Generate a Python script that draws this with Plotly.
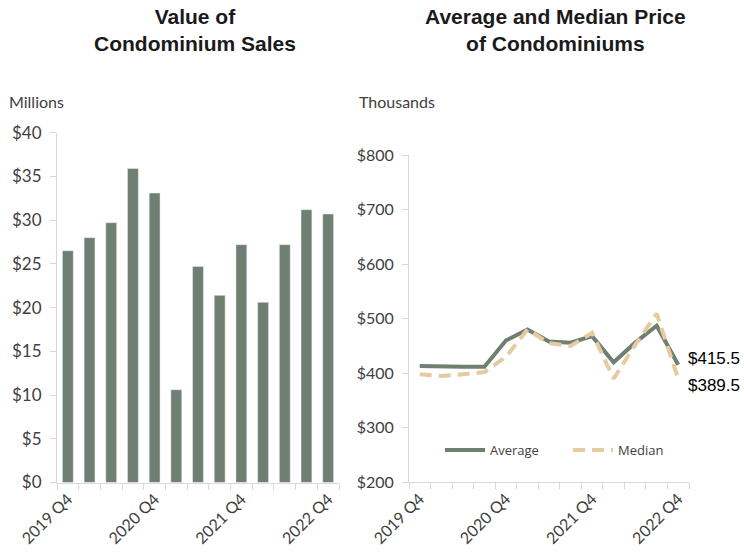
import plotly.graph_objects as go

quarters = ["2019 Q4", "2020 Q1", "2020 Q2", "2020 Q3", "2020 Q4", "2021 Q1", "2021 Q2",
            "2021 Q3", "2021 Q4", "2022 Q1", "2022 Q2", "2022 Q3", "2022 Q4"]
sales_value = [26.5, 28.0, 29.7, 35.9, 33.1, 10.6, 24.7, 21.4, 27.2, 20.6, 27.2, 31.2, 30.7]
avg_price = [413, 412, 412, 412, 460, 480, 458, 456, 468, 420, 456, 487, 415.5]
median_price = [398, 395, 398, 402, 430, 480, 455, 450, 474, 390, 452, 509, 389.5]
label_idx = [0, 4, 8, 12]

W, H = 744, 552
xs = list(range(len(quarters)))
BAR = "#6f7f72"
MED = "#e6caa0"
TICKC = "#404040"
AXC = "#d9d9d9"

fig = go.Figure()
fig.add_trace(go.Bar(x=xs, y=sales_value, marker_color=BAR, width=0.5,
                     showlegend=False, xaxis="x", yaxis="y",
                     hovertext=quarters))
fig.add_trace(go.Scatter(x=xs, y=avg_price, mode="lines", name="Average",
                         line=dict(color=BAR, width=4), xaxis="x2", yaxis="y2",
                         hovertext=quarters))
fig.add_trace(go.Scatter(x=xs, y=median_price, mode="lines", name="Median",
                         line=dict(color=MED, width=4, dash="12px,7px"), xaxis="x2", yaxis="y2",
                         hovertext=quarters))

def xaxis_cfg(domain):
    return dict(domain=domain, range=[-0.5, len(quarters) - 0.5],
                tickvals=[xs[i] for i in label_idx],
                ticktext=[quarters[i] for i in label_idx],
                tickangle=-45, ticks="", showgrid=False, zeroline=False,
                showline=True, linecolor=AXC, linewidth=1, automargin=False,
                tickfont=dict(family="Lato", size=16, color=TICKC),
                minor=dict(tick0=-0.5, dtick=1, ticks="outside", ticklen=6,
                           tickcolor=AXC, showgrid=False),
                fixedrange=True)

def yaxis_cfg(domain, rng, dtick, anchor, size):
    return dict(domain=domain, range=rng, dtick=dtick, tickprefix="$",
                showgrid=False, zeroline=False, showline=True, linecolor=AXC,
                linewidth=1, ticks="outside", ticklen=6, tickcolor=AXC, automargin=False,
                ticklabelstandoff=5,
                tickfont=dict(family="Lato", size=size, color=TICKC), anchor=anchor,
                fixedrange=True)

fig.update_layout(
    width=W, height=H,
    margin=dict(l=0, r=0, t=0, b=0, autoexpand=False),
    paper_bgcolor="white", plot_bgcolor="white",
    bargap=0.5,
    xaxis=dict(**xaxis_cfg([57 / W, 339 / W]), anchor="y"),
    yaxis=yaxis_cfg([1 - 482.5 / H, 1 - 132.7 / H], [0, 40], 5, "x", 17),
    xaxis2=dict(**xaxis_cfg([409 / W, 689 / W]), anchor="y2"),
    yaxis2=yaxis_cfg([1 - 482.3 / H, 1 - 155 / H], [200, 800], 100, "x2", 16),
    legend=dict(orientation="h", x=440 / W, y=1 - 450 / H, xanchor="left", yanchor="middle",
                font=dict(family="Open Sans", size=13, color=TICKC),
                bgcolor="rgba(0,0,0,0)", itemwidth=40, entrywidth=73),
    showlegend=True,
)

annotations = [
    dict(text="<b>Value of<br>Condominium Sales</b>", x=195 / W, y=1 - 30 / H,
         xref="paper", yref="paper", showarrow=False, xanchor="center", yanchor="middle",
         font=dict(family="Liberation Sans", size=21, color="#1a1a1a"), align="center"),
    dict(text="<b>Average and Median Price<br>of Condominiums</b>", x=555 / W, y=1 - 30 / H,
         xref="paper", yref="paper", showarrow=False, xanchor="center", yanchor="middle",
         font=dict(family="Liberation Sans", size=21, color="#1a1a1a"), align="center"),
    dict(text="Millions", x=7 / W, y=1 - 101 / H, xref="paper", yref="paper",
         xanchor="left", yanchor="middle", showarrow=False,
         font=dict(family="Lato", size=16, color=TICKC)),
    dict(text="Thousands", x=357 / W, y=1 - 101 / H, xref="paper", yref="paper",
         xanchor="left", yanchor="middle", showarrow=False,
         font=dict(family="Lato", size=16, color=TICKC)),
    dict(text=f"${avg_price[-1]:.1f}", x=xs[-1], y=avg_price[-1], xref="x2", yref="y2",
         xanchor="left", showarrow=False, xshift=8, yshift=6,
         font=dict(family="Liberation Sans", size=17, color="#000000")),
    dict(text=f"${median_price[-1]:.1f}", x=xs[-1], y=median_price[-1], xref="x2", yref="y2",
         xanchor="left", showarrow=False, xshift=8, yshift=-7,
         font=dict(family="Liberation Sans", size=17, color="#000000")),
]
fig.update_layout(annotations=annotations)

fig.write_html("out.html", config={"displayModeBar": False},
               post_script="document.body.style.margin='0';document.body.style.overflow='hidden';")
